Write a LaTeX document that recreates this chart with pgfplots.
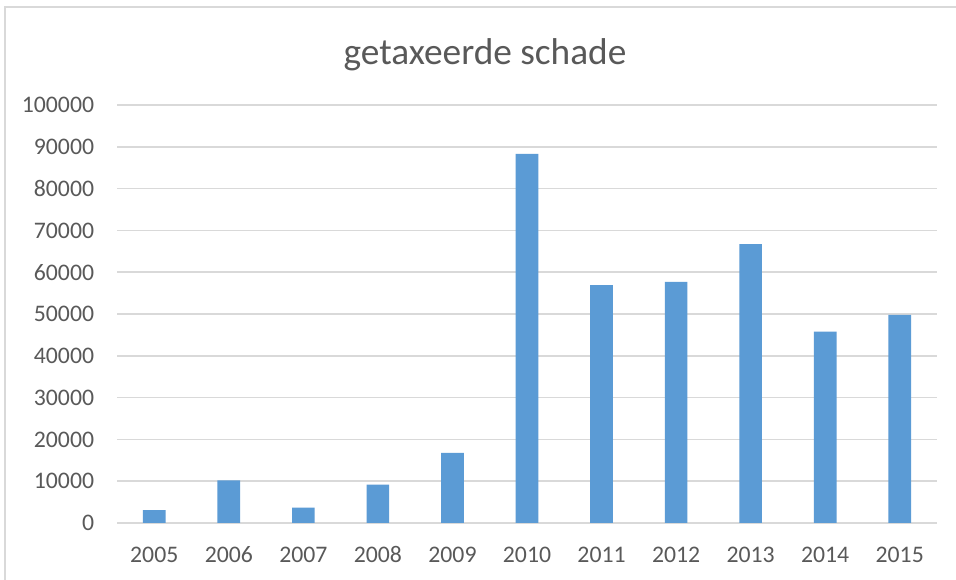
\documentclass[border=0pt]{standalone}
\usepackage{pgfplots}
\pgfplotsset{compat=1.18}
\usepackage{fontspec}
\setmainfont{Carlito}
\definecolor{gridc}{HTML}{D9D9D9}
\definecolor{txt}{HTML}{595959}
\definecolor{barc}{HTML}{5B9BD5}
\begin{document}
\begin{tikzpicture}
\useasboundingbox (0,0) rectangle (717pt,435pt);
\fill[white] (0,0) rectangle (717pt,435pt);
\draw[gridc, line width=1.1pt] (3.75pt,0) -- (3.75pt,429.75pt) -- (717pt,429.75pt);
\begin{axis}[
  at={(87.75pt,42.75pt)}, anchor=south west,
  scale only axis, width=615pt, height=313.5pt,
  xmin=2004.5, xmax=2015.5, ymin=0, ymax=100000,
  ytick={0,10000,20000,30000,40000,50000,60000,70000,80000,90000,100000},
  yticklabels={0,10000,20000,30000,40000,50000,60000,70000,80000,90000,100000},
  xtick={2005,2006,2007,2008,2009,2010,2011,2012,2013,2014,2015},
  xticklabels={2005,2006,2007,2008,2009,2010,2011,2012,2013,2014,2015},
  scaled y ticks=false,
  axis line style={draw=none},
  major tick length=0pt,
  ymajorgrids, grid style={gridc, line width=1.1pt},
  ybar, bar width=17pt,
  tick label style={font=\fontsize{17.8}{20}\selectfont, text=txt},
  yticklabel style={anchor=east, inner sep=0pt, xshift=-17pt},
  xticklabel style={anchor=north, inner sep=0pt, text height=11.2pt, text depth=0pt, yshift=-18.4pt},
  title={getaxeerde schade},
  title style={font=\fontsize{28}{30}\selectfont, text=txt, at={(0.5,1)}, anchor=center, yshift=32pt, xshift=-31.5pt},
]
\addplot[fill=barc, draw=none] coordinates {
(2005,3100) (2006,10200) (2007,3700) (2008,9200) (2009,16800) (2010,88300)
(2011,56900) (2012,57700) (2013,66700) (2014,45800) (2015,49800)};
\end{axis}
\end{tikzpicture}
\end{document}
